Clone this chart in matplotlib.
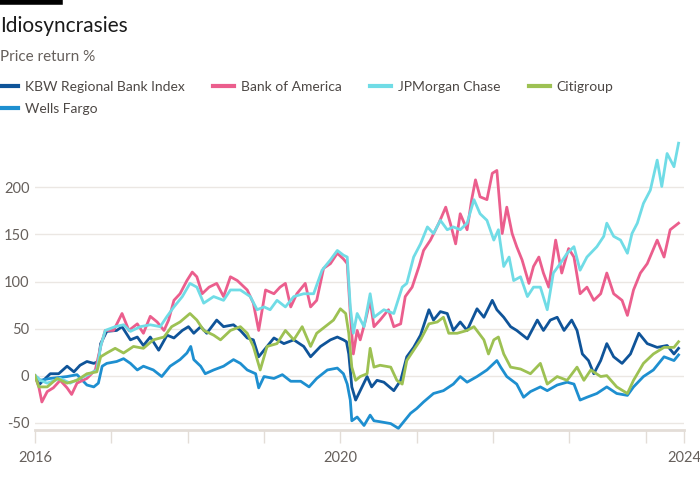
import matplotlib.pyplot as plt
from matplotlib.lines import Line2D

plt.rcParams['font.family'] = ['Lato', 'DejaVu Sans']

# KBW Regional Bank Index
kbw_t = [2016.00, 2016.05, 2016.11, 2016.20, 2016.31, 2016.42, 2016.51, 2016.59, 2016.68, 2016.77,
         2016.83, 2016.86, 2016.94, 2017.07, 2017.14, 2017.25, 2017.34, 2017.42, 2017.51, 2017.62,
         2017.73, 2017.82, 2017.93, 2018.01, 2018.08, 2018.17, 2018.25, 2018.38, 2018.47, 2018.60,
         2018.69, 2018.78, 2018.86, 2018.93, 2019.00, 2019.13, 2019.26, 2019.39, 2019.52, 2019.61,
         2019.74, 2019.87, 2019.96, 2020.04, 2020.08, 2020.11, 2020.15, 2020.20, 2020.26, 2020.35,
         2020.41, 2020.48, 2020.57, 2020.70, 2020.79, 2020.87, 2020.96, 2021.05, 2021.16, 2021.22,
         2021.31, 2021.40, 2021.48, 2021.57, 2021.66, 2021.79, 2021.88, 2021.99, 2022.05, 2022.14,
         2022.23, 2022.31, 2022.45, 2022.58, 2022.66, 2022.75, 2022.84, 2022.93, 2023.03, 2023.10,
         2023.17, 2023.25, 2023.32, 2023.41, 2023.49, 2023.58, 2023.69, 2023.80, 2023.91, 2024.02,
         2024.15, 2024.28, 2024.37, 2024.43]
kbw_v = [0, -10, -5, 2, 2, 10, 4, 11, 15, 13,
         15, 34, 47, 48, 52, 38, 41, 32, 41, 27,
         43, 40, 48, 52, 45, 52, 45, 59, 52, 54,
         48, 40, 38, 20, 27, 40, 34, 38, 31, 20,
         31, 38, 41, 38, 36, 23, -12, -26, -16, -1,
         -12, -5, -7, -16, -5, 20, 30, 43, 70, 59,
         68, 66, 48, 57, 48, 71, 62, 80, 70, 62,
         52, 48, 39, 59, 48, 59, 62, 48, 59, 48,
         23, 16, 2, 16, 34, 20, 13, 23, 45, 34,
         30, 32, 23, 29]

# Bank of America
bac_t = [2016.00, 2016.05, 2016.09, 2016.16, 2016.24, 2016.33, 2016.42, 2016.48, 2016.55, 2016.68,
         2016.79, 2016.86, 2016.92, 2017.03, 2017.14, 2017.23, 2017.34, 2017.42, 2017.51, 2017.60,
         2017.69, 2017.75, 2017.82, 2017.90, 2017.99, 2018.06, 2018.12, 2018.19, 2018.28, 2018.38,
         2018.47, 2018.56, 2018.65, 2018.78, 2018.86, 2018.93, 2019.02, 2019.13, 2019.21, 2019.28,
         2019.35, 2019.43, 2019.54, 2019.61, 2019.69, 2019.78, 2019.87, 2019.96, 2020.04, 2020.09,
         2020.13, 2020.17, 2020.22, 2020.26, 2020.33, 2020.39, 2020.44, 2020.52, 2020.63, 2020.70,
         2020.79, 2020.85, 2020.94, 2021.03, 2021.09, 2021.18, 2021.29, 2021.38, 2021.44, 2021.51,
         2021.57, 2021.66, 2021.72, 2021.77, 2021.83, 2021.92, 2021.99, 2022.05, 2022.12, 2022.18,
         2022.25, 2022.31, 2022.38, 2022.47, 2022.53, 2022.60, 2022.66, 2022.73, 2022.82, 2022.90,
         2022.99, 2023.06, 2023.14, 2023.23, 2023.32, 2023.41, 2023.49, 2023.58, 2023.69, 2023.76,
         2023.84, 2023.93, 2024.02, 2024.15, 2024.24, 2024.32, 2024.43]
bac_v = [0, -12, -28, -17, -13, -5, -13, -20, -8, -3,
         6, 31, 48, 48, 66, 48, 55, 45, 63, 57,
         48, 59, 80, 87, 101, 110, 105, 87, 94, 98,
         84, 105, 101, 91, 77, 48, 91, 87, 94, 98,
         73, 87, 98, 73, 80, 114, 119, 130, 124, 119,
         66, 23, 48, 38, 59, 80, 52, 59, 70, 52,
         55, 84, 94, 116, 133, 144, 162, 179, 162, 140,
         172, 155, 187, 208, 190, 187, 215, 218, 151, 179,
         151, 137, 123, 98, 116, 126, 109, 94, 144, 109,
         135, 126, 87, 94, 80, 87, 109, 87, 80, 64,
         91, 109, 119, 144, 126, 155, 162]

# JPMorgan Chase
jpm_t = [2016.00, 2016.07, 2016.16, 2016.33, 2016.46, 2016.59, 2016.72, 2016.81, 2016.86, 2016.92,
         2017.05, 2017.16, 2017.25, 2017.38, 2017.51, 2017.64, 2017.73, 2017.82, 2017.93, 2018.03,
         2018.12, 2018.21, 2018.34, 2018.47, 2018.56, 2018.69, 2018.82, 2018.91, 2019.00, 2019.08,
         2019.17, 2019.28, 2019.39, 2019.52, 2019.65, 2019.76, 2019.87, 2019.96, 2020.04, 2020.09,
         2020.13, 2020.17, 2020.22, 2020.31, 2020.39, 2020.44, 2020.57, 2020.70, 2020.81, 2020.87,
         2020.96, 2021.05, 2021.14, 2021.22, 2021.31, 2021.40, 2021.48, 2021.57, 2021.66, 2021.75,
         2021.83, 2021.92, 2022.01, 2022.07, 2022.14, 2022.21, 2022.27, 2022.36, 2022.45, 2022.53,
         2022.62, 2022.71, 2022.79, 2022.88, 2022.97, 2023.06, 2023.14, 2023.23, 2023.36, 2023.45,
         2023.49, 2023.58, 2023.67, 2023.76, 2023.82, 2023.89, 2023.97, 2024.06, 2024.15, 2024.21,
         2024.28, 2024.37, 2024.43]
jpm_v = [0, -5, -8, -3, -8, -3, 2, 6, 31, 48,
         52, 54, 47, 52, 54, 52, 63, 73, 84, 98,
         94, 77, 84, 80, 91, 91, 84, 70, 73, 70,
         80, 73, 84, 87, 87, 112, 123, 133, 128, 126,
         73, 45, 66, 52, 87, 62, 70, 66, 94, 98,
         126, 140, 158, 151, 165, 155, 158, 155, 162, 187,
         172, 165, 144, 155, 116, 126, 101, 105, 84, 94,
         94, 70, 109, 119, 130, 137, 112, 126, 137, 148,
         162, 148, 144, 130, 151, 162, 183, 197, 229, 201,
         236, 222, 247]

# Citigroup
citi_t = [2016.00, 2016.05, 2016.16, 2016.29, 2016.42, 2016.55, 2016.68, 2016.81, 2016.86, 2016.94,
          2017.05, 2017.16, 2017.29, 2017.42, 2017.55, 2017.69, 2017.79, 2017.90, 2018.03, 2018.12,
          2018.21, 2018.34, 2018.43, 2018.56, 2018.69, 2018.78, 2018.86, 2018.95, 2019.04, 2019.17,
          2019.28, 2019.39, 2019.50, 2019.61, 2019.69, 2019.80, 2019.91, 2020.00, 2020.07, 2020.11,
          2020.15, 2020.20, 2020.26, 2020.35, 2020.39, 2020.44, 2020.52, 2020.66, 2020.74, 2020.81,
          2020.87, 2020.96, 2021.05, 2021.16, 2021.27, 2021.35, 2021.42, 2021.53, 2021.66, 2021.75,
          2021.88, 2021.94, 2022.01, 2022.07, 2022.14, 2022.23, 2022.36, 2022.49, 2022.62, 2022.71,
          2022.84, 2022.97, 2023.10, 2023.19, 2023.28, 2023.41, 2023.49, 2023.62, 2023.76, 2023.84,
          2023.97, 2024.10, 2024.24, 2024.37, 2024.43]
citi_v = [0, -12, -12, -3, -8, -5, 2, 4, 20, 24,
          29, 24, 31, 29, 38, 41, 52, 57, 66, 59,
          48, 43, 38, 48, 52, 45, 31, 6, 31, 34,
          48, 38, 52, 31, 45, 52, 59, 71, 66, 45,
          9, -5, -1, 2, 29, 9, 11, 9, -5, -9,
          16, 27, 38, 55, 57, 62, 45, 45, 48, 52,
          38, 23, 38, 41, 23, 9, 7, 2, 13, -9,
          -1, -5, 9, -5, 6, -1, 0, -12, -19, -5,
          13, 23, 30, 30, 36]

# Wells Fargo
wfc_t = [2016.00, 2016.07, 2016.20, 2016.42, 2016.55, 2016.68, 2016.77, 2016.83, 2016.88, 2016.94,
         2017.07, 2017.16, 2017.25, 2017.34, 2017.42, 2017.55, 2017.66, 2017.77, 2017.90, 2017.99,
         2018.04, 2018.08, 2018.17, 2018.23, 2018.34, 2018.47, 2018.60, 2018.69, 2018.78, 2018.89,
         2018.93, 2019.00, 2019.13, 2019.24, 2019.35, 2019.48, 2019.59, 2019.69, 2019.83, 2019.96,
         2020.04, 2020.09, 2020.13, 2020.15, 2020.22, 2020.31, 2020.39, 2020.44, 2020.52, 2020.66,
         2020.76, 2020.83, 2020.92, 2021.00, 2021.09, 2021.22, 2021.35, 2021.48, 2021.57, 2021.66,
         2021.79, 2021.92, 2022.05, 2022.10, 2022.18, 2022.31, 2022.40, 2022.49, 2022.62, 2022.71,
         2022.84, 2022.97, 2023.06, 2023.14, 2023.23, 2023.36, 2023.49, 2023.62, 2023.76, 2023.84,
         2023.97, 2024.10, 2024.24, 2024.37, 2024.43]
wfc_v = [0, -5, -3, -1, 1, -10, -12, -8, 10, 13,
         15, 18, 13, 6, 10, 6, -1, 10, 17, 24,
         31, 17, 10, 2, 6, 10, 17, 13, 6, 2,
         -13, -1, -3, 1, -6, -6, -12, -3, 6, 8,
         2, -9, -26, -48, -44, -53, -42, -48, -49, -51,
         -56, -49, -40, -35, -28, -19, -16, -9, -1, -7,
         -1, 6, 16, 9, -1, -9, -23, -17, -12, -16,
         -10, -7, -9, -26, -23, -19, -12, -19, -21, -12,
         -1, 6, 20, 16, 22]

series = [
    ("KBW Regional Bank Index", kbw_t, kbw_v, "#0f5499"),
    ("Wells Fargo", wfc_t, wfc_v, "#1e8fd0"),
    ("Bank of America", bac_t, bac_v, "#eb5e8d"),
    ("JPMorgan Chase", jpm_t, jpm_v, "#70dce6"),
    ("Citigroup", citi_t, citi_v, "#9dc153"),
]
draw_order = [3, 2, 4, 1, 0]  # jpm, bac, citi, wfc, kbw on top

year_ticks = [2016, 2017, 2018, 2019, 2020, 2021, 2022, 2023, 2024, 2024.5]
year_labels = ["2016", "", "", "", "2020", "", "", "", "", "2024"]
y_ticks = [-50, 0, 50, 100, 150, 200]

fig = plt.figure(figsize=(7, 5), dpi=100)
fig.patch.set_facecolor("white")
ax = fig.add_axes([0.05, 0.14, 0.927, 0.60])

for i in draw_order:
    name, t, v, c = series[i]
    ax.plot(t, v, color=c, lw=2.0, solid_joinstyle="round", zorder=3 + i * 0.1)

ax.set_xlim(2016, 2024.5)
ax.set_ylim(-57.8, 261)
ax.set_yticks(y_ticks)
ax.set_yticklabels([str(y) for y in y_ticks])
ax.set_xticks(year_ticks)
ax.set_xticklabels(year_labels)
ax.grid(axis="y", color="#ebe7e3", lw=1)
ax.set_axisbelow(True)
for s in ["top", "right", "left"]:
    ax.spines[s].set_visible(False)
ax.spines["bottom"].set_color("#e3ddd7")
ax.spines["bottom"].set_linewidth(2)
ax.tick_params(axis="y", length=0, pad=4, labelsize=10.5, labelcolor="#66605c")
ax.tick_params(axis="x", length=9, width=1, color="#e3ddd7", pad=6,
               labelsize=10.5, labelcolor="#66605c")

# header
fig.add_artist(Line2D([0, 60 / 700], [0.996, 0.996], color="black", lw=4))
fig.text(0.0, 0.948, "Idiosyncrasies", fontsize=15, color="#1a1a1a", va="center")
fig.text(0.0, 0.886, "Price return %", fontsize=11, color="#66605c", va="center")

handles = [Line2D([], [], color=c, lw=3) for _, _, _, c in series]
labels = [n for n, _, _, _ in series]
fig.legend(handles, labels, loc="upper left", bbox_to_anchor=(-0.012, 0.85), ncol=4,
           frameon=False, fontsize=10, labelcolor="#4d4845", handlelength=1.5,
           handletextpad=0.5, columnspacing=2.05, labelspacing=0.75, borderaxespad=0)

fig.savefig("out.png", dpi=100)
